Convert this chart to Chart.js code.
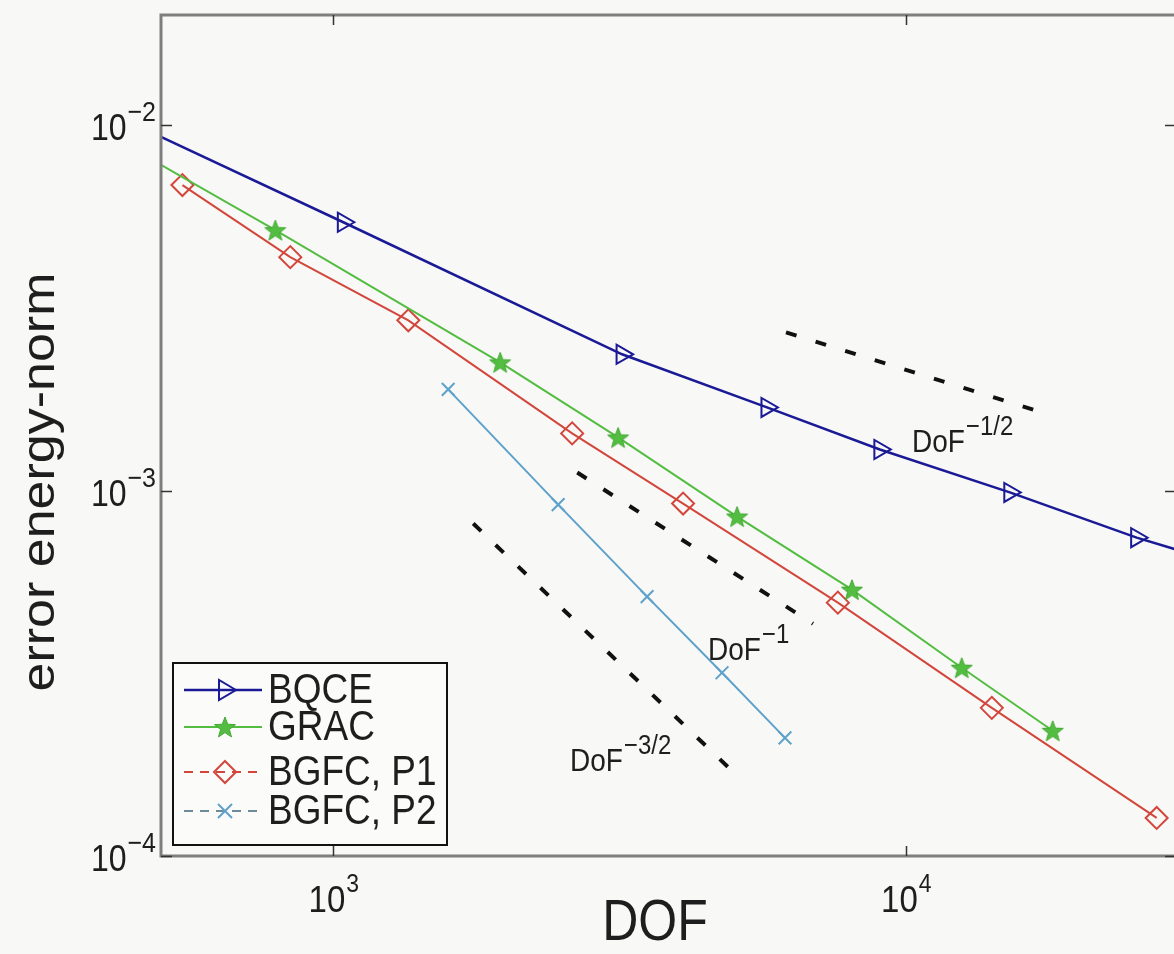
<!DOCTYPE html>
<html>
<head>
<meta charset="utf-8">
<script src="https://cdn.jsdelivr.net/npm/chart.js@4.4.0/dist/chart.umd.min.js"></script>
<style>
  html, body { margin: 0; padding: 0; background: #f8f8f6; }
  #wrap { width: 1174px; height: 954px; }
</style>
</head>
<body>
<div id="wrap"><canvas id="c" width="1174" height="954"></canvas></div>
<script>
// ---- data: degrees of freedom vs. energy-norm error ----
const bqceDof = [340, 1041, 3194, 5720, 9007, 15190, 25300, 42000];
const bqceErr = [1.231e-2, 5.42e-3, 2.359e-3, 1.688e-3, 1.295e-3, 9.88e-4, 7.43e-4, 5.85e-4];

const gracDof = [320, 792, 1956, 3143, 5072, 8052, 12520, 18050];
const gracErr = [1.160e-2, 5.157e-3, 2.242e-3, 1.397e-3, 8.487e-4, 5.355e-4, 3.274e-4, 2.201e-4];

const p1Dof = [545, 841, 1352, 2613, 4082, 7607, 14130, 27420];
const p1Err = [6.85e-3, 4.35e-3, 2.922e-3, 1.433e-3, 9.21e-4, 4.934e-4, 2.543e-4, 1.271e-4];

const p2Dof = [1587, 2470, 3532, 4774, 6150];
const p2Err = [1.891e-3, 9.15e-4, 5.123e-4, 3.172e-4, 2.105e-4];

// reference slopes (two end points each)
const rateHalfDof = [6175, 16860];
const rateHalfErr = [2.709e-3, 1.656e-3];
const rateOneDof = [2667, 6882];
const rateOneErr = [1.120e-3, 4.32e-4];
const rateThreeHalfDof = [1755, 4930];
const rateThreeHalfErr = [8.12e-4, 1.731e-4];

// axes
const xTicks = [1e3, 1e4];
const xTickBase = ['10', '10'];
const xTickExp = ['3', '4'];
const yTicks = [1e-4, 1e-3, 1e-2];
const yTickBase = ['10', '10', '10'];
const yTickExp = ['\u22124', '\u22123', '\u22122'];

const seriesNames = ['BQCE', 'GRAC', 'BGFC, P1', 'BGFC, P2'];
const rateLabels = [['DoF', '\u22121/2'], ['DoF', '\u22121'], ['DoF', '\u22123/2']];

const pts = (xs, ys) => xs.map((x, i) => ({ x: x, y: ys[i] }));

const BLUE = '#1a1a96';
const GREEN = '#52bd40';
const RED = '#d2463c';
const CYAN = '#5ea2cc';
const FONT = '"Liberation Sans", Arial, Helvetica, sans-serif';
const STRETCH = 1.13;

function starImage(size, color) {
  const c = document.createElement('canvas');
  c.width = c.height = size;
  const g = c.getContext('2d');
  const cx = size / 2, cy = size / 2 + 1, R = size / 2 - 1, r = R * 0.42;
  g.beginPath();
  for (let i = 0; i < 10; i++) {
    const a = -Math.PI / 2 + i * Math.PI / 5;
    const rr = i % 2 ? r : R;
    g.lineTo(cx + rr * Math.cos(a), cy + rr * Math.sin(a));
  }
  g.closePath();
  g.fillStyle = color; g.fill();
  g.lineWidth = 1; g.strokeStyle = '#44a834'; g.stroke();
  return c;
}
const star = starImage(24, GREEN);

function rateSet(xs, ys) {
  return {
    data: pts(xs, ys), showLine: true, borderColor: '#111', borderWidth: 4,
    borderDash: [11, 20], pointRadius: 0, borderCapStyle: 'butt'
  };
}

// text helper with slight vertical stretch, base + superscript
function supText(ctx, x, y, base, sup, bSize, sSize, rise, align) {
  ctx.save();
  ctx.font = bSize + 'px ' + FONT;
  const wb = ctx.measureText(base).width;
  ctx.font = sSize + 'px ' + FONT;
  const ws = ctx.measureText(sup).width;
  let x0 = x;
  if (align === 'right') x0 = x - wb - ws;
  else if (align === 'center') x0 = x - (wb + ws) / 2;
  ctx.translate(x0, y);
  ctx.scale(1, STRETCH);
  ctx.textAlign = 'left';
  ctx.textBaseline = 'alphabetic';
  ctx.fillStyle = '#1e1e1e';
  ctx.font = bSize + 'px ' + FONT;
  ctx.fillText(base, 0, 0);
  ctx.font = sSize + 'px ' + FONT;
  ctx.fillText(sup, wb + 1, -rise / STRETCH);
  ctx.restore();
}

function plainText(ctx, x, y, txt, size, align, rot) {
  ctx.save();
  ctx.translate(x, y);
  if (rot) ctx.rotate(rot);
  if (rot) ctx.scale(STRETCH, 1); else ctx.scale(1, STRETCH);
  ctx.font = size + 'px ' + FONT;
  ctx.textAlign = align || 'left';
  ctx.textBaseline = 'middle';
  ctx.fillStyle = '#1e1e1e';
  ctx.fillText(txt, 0, 0);
  ctx.restore();
}

function marker(ctx, kind, x, y) {
  ctx.save();
  if (kind === 0) {
    ctx.strokeStyle = BLUE; ctx.lineWidth = 2;
    ctx.beginPath();
    ctx.moveTo(x + 11, y); ctx.lineTo(x - 6, y - 10); ctx.lineTo(x - 6, y + 10); ctx.closePath();
    ctx.stroke();
  } else if (kind === 1) {
    ctx.drawImage(star, x - 12, y - 12);
  } else if (kind === 2) {
    ctx.strokeStyle = RED; ctx.lineWidth = 2;
    ctx.beginPath();
    ctx.moveTo(x, y - 11); ctx.lineTo(x + 11, y); ctx.lineTo(x, y + 11); ctx.lineTo(x - 11, y); ctx.closePath();
    ctx.stroke();
  } else {
    ctx.strokeStyle = CYAN; ctx.lineWidth = 2;
    ctx.beginPath();
    ctx.moveTo(x - 7, y - 7); ctx.lineTo(x + 7, y + 7);
    ctx.moveTo(x - 7, y + 7); ctx.lineTo(x + 7, y - 7);
    ctx.stroke();
  }
  ctx.restore();
}

const decor = {
  id: 'decor',
  afterDatasetsDraw(chart) {
    const ctx = chart.ctx;
    const a = chart.chartArea;
    const xs = chart.scales.x, ys = chart.scales.y;

    // axes box
    ctx.save();
    ctx.strokeStyle = '#7e7e7e';
    ctx.lineWidth = 3;
    ctx.strokeRect(a.left, a.top, a.right + 2 - a.left, a.bottom - a.top);
    // ticks pointing inward
    ctx.strokeStyle = '#333';
    ctx.lineWidth = 1.5;
    ctx.beginPath();
    xTicks.forEach(v => {
      const px = Math.round(xs.getPixelForValue(v)) + 0.5;
      ctx.moveTo(px, a.bottom); ctx.lineTo(px, a.bottom - 10);
      ctx.moveTo(px, a.top); ctx.lineTo(px, a.top + 10);
    });
    yTicks.forEach(v => {
      const py = Math.round(ys.getPixelForValue(v)) + 0.5;
      ctx.moveTo(a.left, py); ctx.lineTo(a.left + 11, py);
      ctx.moveTo(a.right + 1, py); ctx.lineTo(a.right - 9, py);
    });
    ctx.stroke();
    ctx.restore();

    // tick labels
    xTicks.forEach((v, i) => {
      const px = xs.getPixelForValue(v);
      supText(ctx, px, a.bottom + 56, xTickBase[i], xTickExp[i], 33, 23, 20, 'center');
    });
    yTicks.forEach((v, i) => {
      const py = ys.getPixelForValue(v);
      supText(ctx, a.left - 6, py + 15, yTickBase[i], yTickExp[i], 32, 25, 19, 'right');
    });

    // axis titles
    plainText(ctx, 655, 924, 'DOF', 50, 'center');
    plainText(ctx, 41, 482, 'error energy-norm', 46, 'center', -Math.PI / 2);

    // rate annotations
    supText(ctx, 912, 452, rateLabels[0][0], rateLabels[0][1], 28, 24, 17, 'left');
    supText(ctx, 708, 660, rateLabels[1][0], rateLabels[1][1], 28, 24, 17, 'left');
    supText(ctx, 570, 771, rateLabels[2][0], rateLabels[2][1], 28, 24, 17, 'left');

    // legend
    const L = { x: 173, y: 663, w: 274, h: 182 };
    ctx.save();
    ctx.fillStyle = '#fbfbfa';
    ctx.fillRect(L.x, L.y, L.w, L.h);
    ctx.strokeStyle = '#111';
    ctx.lineWidth = 2;
    ctx.strokeRect(L.x, L.y, L.w, L.h);
    ctx.restore();
    const rowY = [690, 727, 772, 811];
    const cols = [BLUE, GREEN, RED, CYAN];
    rowY.forEach((y, i) => {
      ctx.save();
      ctx.strokeStyle = i === 3 ? '#6d8a9a' : cols[i];
      ctx.lineWidth = i === 0 ? 2.5 : 2;
      if (i >= 2) ctx.setLineDash([9, 7]);
      ctx.beginPath();
      ctx.moveTo(184, y); ctx.lineTo(262, y);
      ctx.stroke();
      ctx.restore();
      marker(ctx, i, 225, y);
      plainText(ctx, 268, y + 1, seriesNames[i], 37, 'left');
    });
  }
};

new Chart(document.getElementById('c'), {
  type: 'scatter',
  data: {
    datasets: [
      {
        label: seriesNames[0], data: pts(bqceDof, bqceErr), showLine: true,
        borderColor: BLUE, borderWidth: 2.5, pointStyle: 'triangle', pointRotation: 90,
        pointRadius: 11, pointBorderWidth: 2, pointBorderColor: BLUE,
        pointBackgroundColor: 'rgba(0,0,0,0)'
      },
      {
        label: seriesNames[1], data: pts(gracDof, gracErr), showLine: true,
        borderColor: GREEN, borderWidth: 2, pointStyle: star, pointRadius: 12
      },
      {
        label: seriesNames[2], data: pts(p1Dof, p1Err), showLine: true,
        borderColor: RED, borderWidth: 2, pointStyle: 'rectRot',
        pointRadius: 11, pointBorderWidth: 2, pointBorderColor: RED,
        pointBackgroundColor: 'rgba(0,0,0,0)'
      },
      {
        label: seriesNames[3], data: pts(p2Dof, p2Err), showLine: true,
        borderColor: CYAN, borderWidth: 2, pointStyle: 'crossRot',
        pointRadius: 9, pointBorderWidth: 2, pointBorderColor: CYAN
      },
      rateSet(rateHalfDof, rateHalfErr),
      rateSet(rateOneDof, rateOneErr),
      rateSet(rateThreeHalfDof, rateThreeHalfErr)
    ]
  },
  options: {
    responsive: false,
    animation: false,
    devicePixelRatio: 1,
    layout: { autoPadding: false, padding: { left: 161, top: 15, right: 0, bottom: 98 } },
    plugins: { legend: { display: false }, tooltip: { enabled: false } },
    elements: { line: { tension: 0 } },
    scales: {
      x: { type: 'logarithmic', min: 500, max: 29400, display: false },
      y: { type: 'logarithmic', min: 1e-4, max: 2e-2, display: false }
    }
  },
  plugins: [decor]
});
</script>
</body>
</html>
